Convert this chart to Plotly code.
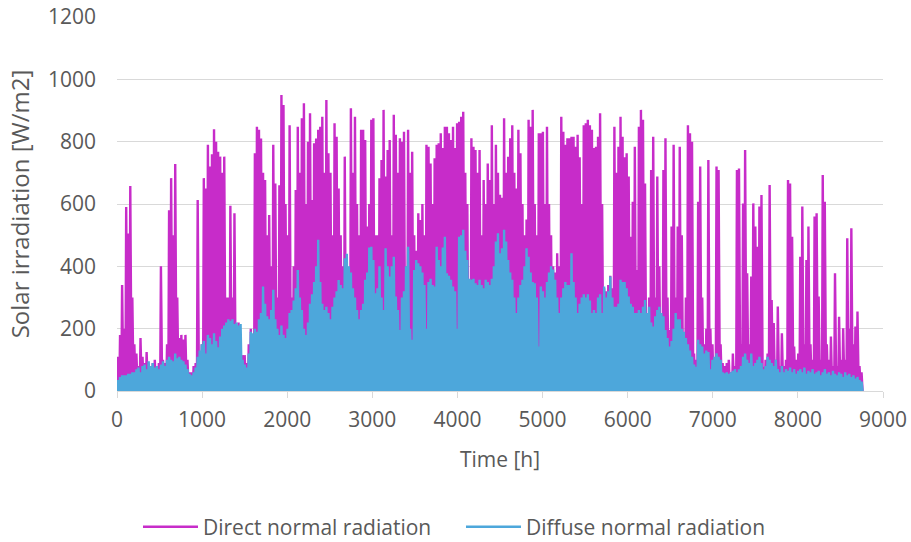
import plotly.graph_objects as go

# Daily peak values (W/m2), one per day of the year (365 days)
direct_peaks = [
    # days 0-59
    110,180,340,200,590,505,658,300,150,120,80,170,110,90,125,80,70,90,100,80,
    90,400,100,90,150,580,683,500,728,300,170,180,165,180,100,60,60,80,90,613,
    100,150,683,650,790,720,760,840,800,768,752,700,752,300,300,594,300,570,200,220,
    # days 60-120
    100,115,115,90,150,200,150,763,848,838,810,700,677,500,565,400,790,666,300,660,
    950,918,600,500,853,300,400,645,848,700,875,923,600,800,891,613,795,810,838,848,
    880,700,934,763,700,500,859,816,650,500,400,752,400,300,907,700,880,600,500,838,838,
    # days 121-181
    805,528,600,870,875,500,500,683,741,902,688,773,805,500,886,822,700,811,800,832,
    400,838,700,768,500,450,570,549,600,500,790,784,730,600,747,790,795,827,780,848,
    848,827,805,848,780,859,864,880,896,700,600,350,811,784,773,700,773,500,677,600,730,
    # days 182-242
    677,853,600,790,700,630,620,875,700,752,811,853,700,650,838,763,600,500,550,870,
    848,902,600,500,827,827,832,600,848,600,500,400,380,442,400,880,832,790,811,811,
    816,816,784,822,750,600,853,859,870,853,838,780,784,816,891,600,330,320,340,370,330,
    # days 243-303
    848,700,784,880,816,750,763,688,495,607,784,388,848,902,870,666,228,300,709,816,
    300,688,400,250,709,811,300,196,528,790,300,528,784,500,120,300,853,827,800,120,
    100,607,720,300,150,200,741,200,150,100,720,709,150,90,80,90,100,60,120,80,709,
    # days 304-364
    714,150,602,773,378,150,367,602,528,463,592,629,78,100,120,661,292,218,100,271,
    80,185,80,100,677,666,495,143,100,120,431,592,150,420,528,150,100,560,570,303,
    100,693,607,150,100,175,80,378,80,238,100,201,100,490,200,522,150,207,255,80,60,
]

diffuse_peaks = [
    # days 0-59
    35,45,50,50,50,55,55,60,60,70,75,60,80,85,70,95,80,90,75,80,
    70,85,95,80,100,110,100,95,120,105,110,100,95,85,70,55,50,60,75,110,
    130,150,160,120,180,170,150,185,160,140,175,200,210,220,230,225,230,215,220,210,
    # days 60-120
    215,100,85,75,120,190,185,200,190,230,250,335,280,240,230,260,325,230,200,180,
    210,180,170,200,250,260,290,330,388,300,260,200,180,220,280,310,350,400,485,350,
    280,260,270,250,230,270,300,320,356,340,330,426,440,400,380,330,300,260,230,260,280,
    # days 121-181
    357,380,460,463,420,314,330,400,300,260,458,400,367,400,431,303,260,196,300,320,
    400,463,200,164,388,420,410,400,380,340,200,350,360,340,335,463,420,400,460,495,
    378,370,357,335,320,200,495,500,517,450,420,360,357,360,346,340,357,340,330,357,350,
    # days 182-242
    340,360,400,480,506,442,458,517,480,420,380,357,300,250,300,340,357,400,458,431,
    380,350,346,300,143,335,320,300,350,380,400,390,357,300,250,300,330,350,340,340,
    442,350,300,250,280,300,310,300,310,290,250,260,250,300,310,250,335,300,320,367,300,
    # days 243-303
    270,270,280,357,350,350,330,303,280,270,250,250,260,250,270,292,250,270,220,207,
    240,260,270,250,240,196,170,143,160,200,250,230,230,200,190,170,150,130,110,85,
    78,164,150,143,120,130,125,70,100,110,121,110,100,60,57,60,55,60,65,70,60,
    # days 304-364
    70,80,110,120,100,90,120,80,90,100,110,90,70,80,110,100,90,80,100,70,
    60,80,60,70,65,75,60,70,55,65,70,60,75,55,65,60,70,55,60,65,
    50,60,70,55,60,50,65,55,50,60,55,45,60,50,55,45,50,40,45,35,30,
]

series_names = ["Direct normal radiation", "Diffuse normal radiation"]
series_colors = ["#C72CC9", "#4DA7DB"]

x_ticks = [0, 1000, 2000, 3000, 4000, 5000, 6000, 7000, 8000, 9000]
y_ticks = [0, 200, 400, 600, 800, 1000, 1200]

HOURS_PER_DAY = 24


def hourly_profile(peaks):
    """Each day: zero overnight, rising to the day's peak around noon, back to zero."""
    xs, ys = [0], [0]
    for d, v in enumerate(peaks):
        base = d * HOURS_PER_DAY
        xs += [base + 3, base + 12, base + 21]
        ys += [0, v, 0]
    xs.append(len(peaks) * HOURS_PER_DAY)
    ys.append(0)
    return xs, ys


fig = go.Figure()
for peaks, name, color in zip([direct_peaks, diffuse_peaks], series_names, series_colors):
    xs, ys = hourly_profile(peaks)
    fig.add_trace(go.Scatter(x=xs, y=ys, mode="lines", name=name,
                             line=dict(color=color, width=2.4)))

font_family = "Open Sans"
text_color = "#595959"
grid_color = "#D9D9D9"

fig.update_layout(
    width=911, height=542,
    margin=dict(l=117, r=28, t=17, b=151, autoexpand=False),
    paper_bgcolor="white", plot_bgcolor="white",
    font=dict(family=font_family, color=text_color, size=21),
    showlegend=True,
    legend=dict(orientation="h", x=0.0274, xanchor="left", y=-0.364, yanchor="middle",
                font=dict(size=21, color=text_color), itemwidth=55,
                entrywidth=253, entrywidthmode="pixels", tracegroupgap=0),
    xaxis=dict(range=[0, 9000], tickvals=x_ticks, showgrid=False, zeroline=False,
               showline=True, linecolor=grid_color, linewidth=1,
               ticks="outside", ticklen=6, tickcolor=grid_color,
               ticklabelstandoff=4, automargin=False,
               tickfont=dict(size=21, color=text_color),
               title=dict(text="Time [h]", font=dict(size=21, color=text_color), standoff=20)),
    yaxis=dict(range=[0, 1200], tickvals=y_ticks, showgrid=True, gridcolor=grid_color,
               gridwidth=1, zeroline=False, showline=False, ticks="",
               ticklabelstandoff=20, automargin=False,
               tickfont=dict(size=21, color=text_color),
               title=dict(text="Solar irradiation [W/m2]", font=dict(size=24, color=text_color),
                          standoff=11)),
)

fig.write_html("out.html")
